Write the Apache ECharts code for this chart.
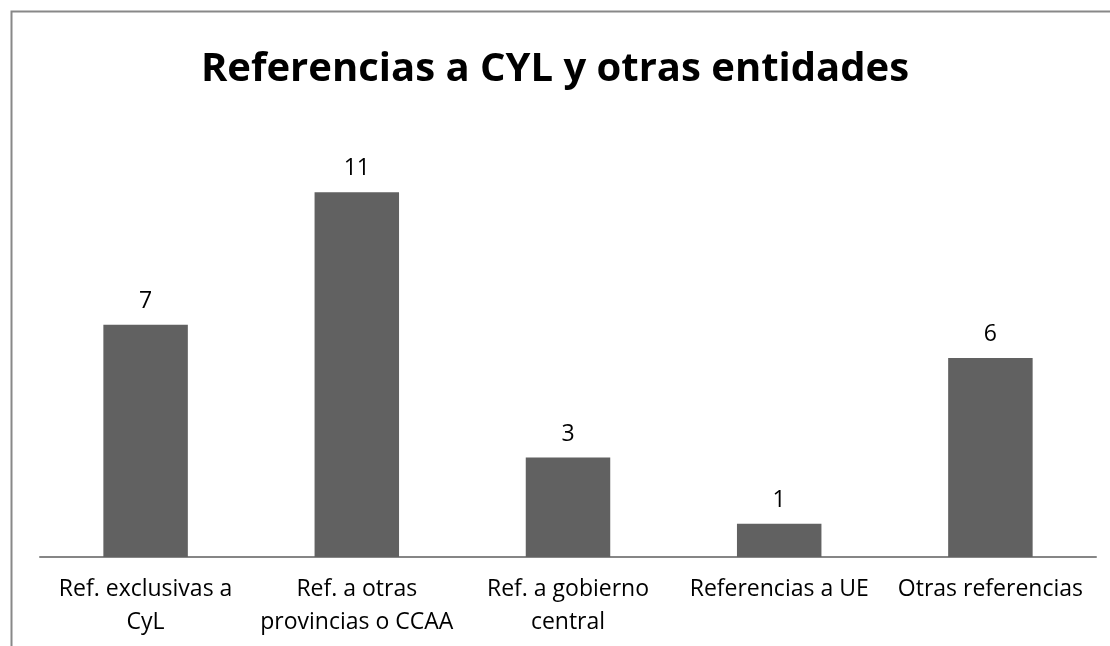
<!DOCTYPE html>
<html>
<head>
<title>Referencias a CYL</title>
<meta charset="utf-8">
<script type="text/javascript" src="https://cdn.jsdelivr.net/npm/echarts@6/dist/echarts.min.js"></script>
</head>
<body style="margin:0">
	<div id="main" style="width: 1110px; height: 646px;"></div>
</body>
<script>
	var categories = [
		'Ref. exclusivas a\nCyL',
		'Ref. a otras\nprovincias o CCAA',
		'Ref. a gobierno\ncentral',
		'Referencias a UE',
		'Otras referencias'
	];
	var values = [7, 11, 3, 1, 6];

	var myChart = echarts.init(document.getElementById('main'));
	var option = {
		animation: false,
		textStyle: { fontFamily: 'Open Sans' },
		title: {
			text: 'Referencias a CYL y otras entidades',
			left: 'center',
			top: 45,
			textStyle: { fontSize: 40, fontWeight: 'bold', color: '#000', fontFamily: 'Open Sans' }
		},
		// marco del gráfico
		graphic: [{
			type: 'rect',
			shape: { x: 11.5, y: 11.5, width: 1200, height: 700 },
			style: { fill: 'none', stroke: '#888', lineWidth: 2 },
			silent: true
		}],
		grid: { left: 40, right: 14, top: 159, bottom: 89 },
		xAxis: {
			type: 'category',
			data: categories,
			axisTick: { show: false },
			axisLine: { lineStyle: { color: '#868686', width: 2 } },
			axisLabel: { color: '#000', fontSize: 23, lineHeight: 33, margin: 16, interval: 0 }
		},
		yAxis: {
			type: 'value',
			min: 0,
			max: 12,
			show: false,
			splitLine: { show: false }
		},
		series: [{
			type: 'bar',
			data: values,
			barWidth: '40%',
			itemStyle: { color: '#616161' },
			label: { show: true, position: 'top', color: '#000', fontSize: 23, distance: 12 }
		}]
	};
	myChart.setOption(option);
</script>
</html>
